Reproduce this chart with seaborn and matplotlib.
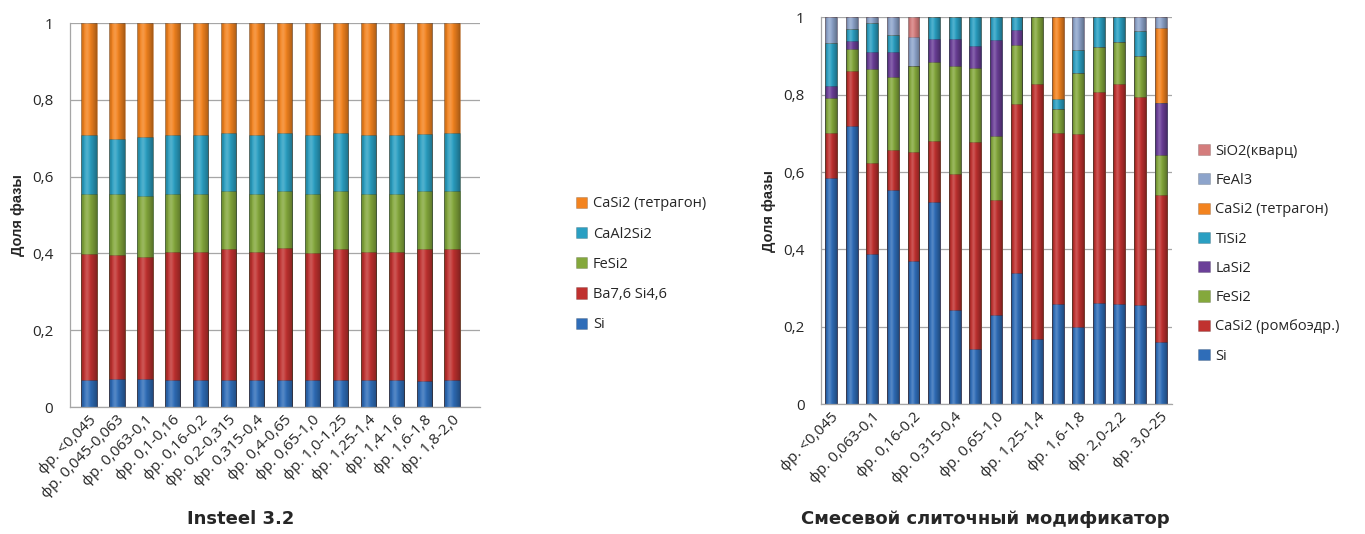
import numpy as np
import pandas as pd
import matplotlib
matplotlib.use("Agg")
import matplotlib.pyplot as plt
import seaborn as sns

sns.set_theme(style="white")
plt.rcParams['font.family'] = ['Open Sans', 'DejaVu Sans']

# ---------------- data: left chart (Insteel 3.2) ----------------
left_labels = ["фр. <0,045", "фр. 0,045-0,063", "фр. 0,063-0,1", "фр. 0,1-0,16",
               "фр. 0,16-0,2", "фр. 0,2-0,315", "фр. 0,315-0,4", "фр. 0,4-0,65",
               "фр. 0,65-1,0", "фр. 1,0-1,25", "фр. 1,25-1,4", "фр. 1,4-1,6",
               "фр. 1,6-1,8", "фр. 1,8-2,0"]
left_series = ["Si", "Ba7,6 Si4,6", "FeSi2", "CaAl2Si2", "CaSi2 (тетрагон)"]
# cumulative tops of each layer (bottom to top)
left_si    = [0.071, 0.072, 0.072, 0.071, 0.071, 0.071, 0.071, 0.071, 0.071, 0.071, 0.071, 0.071, 0.067, 0.071]
left_ba    = [0.399, 0.397, 0.390, 0.404, 0.404, 0.411, 0.404, 0.414, 0.401, 0.411, 0.404, 0.404, 0.411, 0.411]
left_fesi  = [0.555, 0.556, 0.549, 0.556, 0.556, 0.562, 0.556, 0.562, 0.556, 0.562, 0.556, 0.556, 0.562, 0.562]
left_caal  = [0.709, 0.698, 0.702, 0.709, 0.709, 0.713, 0.709, 0.713, 0.709, 0.713, 0.709, 0.709, 0.711, 0.713]
left_casi  = [1.0] * 14

# ---------------- data: right chart (Смесевой слиточный модификатор) ----------------
right_labels = ["фр. <0,045", "фр. 0,045-0,063", "фр. 0,063-0,1", "фр. 0,1-0,16",
                "фр. 0,16-0,2", "фр. 0,2-0,315", "фр. 0,315-0,4", "фр. 0,4-0,65",
                "фр. 0,65-1,0", "фр. 1,0-1,25", "фр. 1,25-1,4", "фр. 1,4-1,6",
                "фр. 1,6-1,8", "фр. 1,8-2,0", "фр. 2,0-2,2", "фр. 2,2-3,0", "фр. 3,0-25"]
right_series = ["Si", "CaSi2 (ромбоэдр.)", "FeSi2", "LaSi2", "TiSi2",
                "CaSi2 (тетрагон)", "FeAl3", "SiO2(кварц)"]
# cumulative tops of each layer (bottom to top)
r_si    = [0.586, 0.719, 0.388, 0.554, 0.370, 0.524, 0.244, 0.143, 0.231, 0.339, 0.169, 0.259, 0.199, 0.261, 0.259, 0.257, 0.160]
r_casir = [0.700, 0.862, 0.624, 0.657, 0.653, 0.680, 0.595, 0.679, 0.528, 0.776, 0.827, 0.700, 0.699, 0.808, 0.827, 0.793, 0.541]
r_fesi  = [0.792, 0.919, 0.866, 0.847, 0.875, 0.885, 0.873, 0.868, 0.694, 0.929, 1.000, 0.763, 0.855, 0.922, 0.935, 0.901, 0.644]
r_lasi  = [0.823, 0.940, 0.910, 0.910, 0.875, 0.943, 0.943, 0.927, 0.941, 0.966, 1.000, 0.763, 0.855, 0.922, 0.935, 0.901, 0.778]
r_tisi  = [0.933, 0.969, 0.984, 0.954, 0.875, 1.000, 1.000, 1.000, 1.000, 1.000, 1.000, 0.788, 0.916, 1.000, 1.000, 0.964, 0.778]
r_casit = [0.933, 0.969, 0.984, 0.954, 0.875, 1.000, 1.000, 1.000, 1.000, 1.000, 1.000, 1.000, 0.916, 1.000, 1.000, 0.964, 0.973]
r_feal  = [1.000, 1.000, 1.000, 1.000, 0.950, 1.000, 1.000, 1.000, 1.000, 1.000, 1.000, 1.000, 1.000, 1.000, 1.000, 1.000, 1.000]
r_sio2  = [1.0] * 17

# colours
C_SI = "#2F6DB8"
C_RED = "#C0312F"
C_GREEN = "#84A83C"
C_PURPLE = "#6B3F98"
C_CYAN = "#2A9FC2"
C_ORANGE = "#F3831F"
C_FEAL = "#8DA4CB"
C_SIO2 = "#D47C7C"

left_colors = [C_SI, C_RED, C_GREEN, C_CYAN, C_ORANGE]
right_colors = [C_SI, C_RED, C_GREEN, C_PURPLE, C_CYAN, C_ORANGE, C_FEAL, C_SIO2]

fig = plt.figure(figsize=(13.65, 5.34), dpi=100)
ax1 = fig.add_axes([0.0513, 0.2378, 0.3004, 0.719])
ax2 = fig.add_axes([0.6015, 0.2429, 0.2571, 0.7247])

# horizontal shading profile mimicking the glossy cylinder look
_t = np.linspace(0, 1, 64)
_dark = np.clip(np.abs(_t - 0.42) / 0.58, 0, 1) ** 1.6
_light = np.exp(-((_t - 0.38) / 0.14) ** 2)
_shade = np.zeros((1, 64, 4))
_shade[0, :, :3] = np.where(_light[:, None] > _dark[:, None], 1.0, 0.0)
_shade[0, :, 3] = np.maximum(_dark * 0.32, _light * 0.18)


def draw(ax, labels, layers, colors, names, width):
    # draw cumulative layers from top down so lower layers overlay
    for cum, col, name in reversed(list(zip(layers, colors, names))):
        df = pd.DataFrame({"cat": labels, "val": cum})
        sns.barplot(data=df, x="cat", y="val", order=labels, color=col,
                    saturation=1, width=width, ax=ax, label=name,
                    edgecolor="#00000030", linewidth=0.6)
    if ax.get_legend() is not None:
        ax.get_legend().remove()
    # glossy overlay on each full-height column (first drawn layer)
    for p in list(ax.patches)[:len(labels)]:
        x0, w, h = p.get_x(), p.get_width(), p.get_height()
        ax.imshow(_shade, extent=[x0, x0 + w, 0, h], aspect="auto",
                  interpolation="bilinear", zorder=p.get_zorder() + 0.1)
    ax.set_ylim(0, 1)
    ax.set_yticks([0, 0.2, 0.4, 0.6, 0.8, 1.0])
    ax.set_yticklabels(["0", "0,2", "0,4", "0,6", "0,8", "1"], fontsize=11)
    ax.yaxis.grid(True, color="#A6A6A6", linewidth=0.9)
    ax.set_axisbelow(True)
    for s in ["top", "right"]:
        ax.spines[s].set_visible(False)
    for s in ["left", "bottom"]:
        ax.spines[s].set_color("#A6A6A6")
        ax.spines[s].set_linewidth(0.9)
    ax.tick_params(axis="y", length=4, color="#A6A6A6", pad=8)
    ax.tick_params(axis="x", length=0, pad=4)
    ax.set_xlabel("")
    ax.set_ylabel("Доля фазы", fontsize=10.5, fontweight="bold",
                  family=["Liberation Sans", "DejaVu Sans"], labelpad=5)


draw(ax1, left_labels, [left_si, left_ba, left_fesi, left_caal, left_casi],
     left_colors, left_series, 0.55)
ax1.set_xlim(-0.68, 14.0)
ax1.set_ylim(0, 1)
ax1.set_xticks(range(len(left_labels)))
ax1.set_xticklabels(left_labels, rotation=45, ha="right", rotation_mode="anchor",
                    fontsize=11)

draw(ax2, right_labels, [r_si, r_casir, r_fesi, r_lasi, r_tisi, r_casit, r_feal, r_sio2],
     right_colors, right_series, 0.58)
ax2.set_xlim(-0.49, 16.55)
ax2.set_ylim(0, 1)
ax2.set_xticks(range(len(right_labels)))
ax2.set_xticklabels([l if i % 2 == 0 else "" for i, l in enumerate(right_labels)],
                    rotation=45, ha="right", rotation_mode="anchor", fontsize=11)

# legends (reverse order as in Excel)
h, l = ax1.get_legend_handles_labels()
leg1 = fig.legend(h, l, loc="center left", bbox_to_anchor=(0.412, 0.505),
                  frameon=False, fontsize=10.5, handlelength=0.8, handleheight=0.8,
                  handletextpad=0.4, labelspacing=1.05)
h, l = ax2.get_legend_handles_labels()
leg2 = fig.legend(h, l, loc="center left", bbox_to_anchor=(0.868, 0.525),
                  frameon=False, fontsize=10.5, handlelength=0.8, handleheight=0.8,
                  handletextpad=0.4, labelspacing=0.98)

fig.text(0.176, 0.012, "Insteel 3.2", ha="center", va="bottom", fontsize=13,
         fontweight="bold", family=["DejaVu Sans"])
fig.text(0.722, 0.012, "Смесевой слиточный модификатор", ha="center", va="bottom",
         fontsize=13, fontweight="bold", family=["DejaVu Sans"])

fig.savefig("out.png", dpi=100)
